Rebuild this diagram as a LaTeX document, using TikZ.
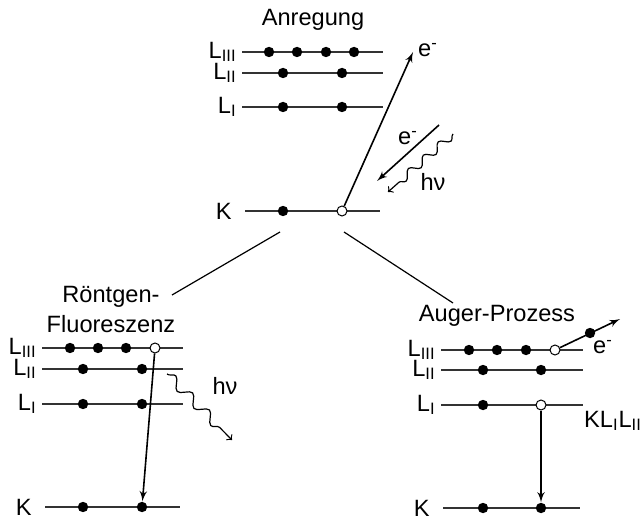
\documentclass[tikz,border=0pt]{standalone}
\usepackage{fontspec}
\setmainfont{Liberation Sans}
\usetikzlibrary{arrows,decorations.pathmorphing}
\tikzstyle{level}=[draw,line width=0.7pt,black!80]
\tikzstyle{electron}=[circle,fill=black,inner sep=0pt,minimum size=5.2pt]
\tikzstyle{hole}=[circle,draw,fill=white,inner sep=0pt,minimum size=5pt,line width=0.5pt]
\tikzstyle{shell}=[anchor=east,inner sep=0.5pt]
\tikzstyle{line} = [draw, -latex', line width=0.8pt]
\tikzstyle{photon} = [draw, ->, line width=0.6pt, decorate,
  decoration={snake,amplitude=2pt,segment length=10pt,post length=3pt}]

\begin{document}
\begin{tikzpicture}[x=0.5pt,y=-0.5pt,font=\fontsize{11.8}{15}\selectfont]
  \useasboundingbox (0,0) rectangle (640,517);
  % headers
  \node (anregung) at (313,20) {Anregung};
  \node[align=center] (roentgen) at (111,309) {Röntgen-\\Fluoreszenz};
  \node (auger) at (497,316) {Auger-Prozess};
  % Anregung
  \coordinate (aL3a) at (242,52);  \coordinate (aL3b) at (383,52);
  \coordinate (aL2a) at (242,73);  \coordinate (aL2b) at (383,73);
  \coordinate (aL1a) at (242,107); \coordinate (aL1b) at (383,107);
  \coordinate (aKa)  at (245,211); \coordinate (aKb)  at (380,211);
  \draw[level] (aL3a) -- (aL3b);
  \draw[level] (aL2a) -- (aL2b);
  \draw[level] (aL1a) -- (aL1b);
  \draw[level] (aKa) -- (aKb);
  \node[shell] (aL3) at ([xshift=-2]aL3a) {L\textsubscript{III}};
  \node[shell] (aL2) at ([xshift=-2]aL2a) {L\textsubscript{II}};
  \node[shell] (aL1) at ([xshift=-2]aL1a) {L\textsubscript{I}};
  \node[shell] (aK) at ([xshift=-6]aKa) {K};
  \node[electron] (aL3e1) at (269,52) {};
  \node[electron] (aL3e2) at (297,52) {};
  \node[electron] (aL3e3) at (326,52) {};
  \node[electron] (aL3e4) at (354,52) {};
  \node[electron] (aL2e1) at (283,73) {};
  \node[electron] (aL2e2) at (342,73) {};
  \node[electron] (aL1e1) at (283,107) {};
  \node[electron] (aL1e2) at (342,107) {};
  \node[electron] (aKe1) at (283,211) {};
  \node[hole] (aKh) at (342,211) {};
  \coordinate (aout) at (413,52);
  \path [line] (aKh) -- (aout);
  \node (aoutlabel) at (428,50) {e\textsuperscript{-}};
  \coordinate (ainA) at (439,125);
  \coordinate (ainB) at (377,181);
  \path [line] (ainA) -- (ainB);
  \node (ainlabel) at (408,138) {e\textsuperscript{-}};
  \coordinate (aphA) at (453,134);
  \coordinate (aphB) at (388,192);
  \path [photon] (aphA) -- (aphB);
  \node (aphlabel) at (433,182) {hν};
  % branches
  \coordinate (splitL) at (280,232); \coordinate (toL) at (172,295);
  \coordinate (splitR) at (344,232); \coordinate (toR) at (453,303);
  \draw[line width=0.6pt] (splitL) -- (toL);
  \draw[line width=0.6pt] (splitR) -- (toR);
  % Roentgen-Fluoreszenz
  \coordinate (rL3a) at (42,348);  \coordinate (rL3b) at (183,348);
  \coordinate (rL2a) at (42,369);  \coordinate (rL2b) at (183,369);
  \coordinate (rL1a) at (42,404);  \coordinate (rL1b) at (183,404);
  \coordinate (rKa)  at (45,507);  \coordinate (rKb)  at (180,507);
  \draw[level] (rL3a) -- (rL3b);
  \draw[level] (rL2a) -- (rL2b);
  \draw[level] (rL1a) -- (rL1b);
  \draw[level] (rKa) -- (rKb);
  \node[shell] (rL3) at ([xshift=-2]rL3a) {L\textsubscript{III}};
  \node[shell] (rL2) at ([xshift=-2]rL2a) {L\textsubscript{II}};
  \node[shell] (rL1) at ([xshift=-2]rL1a) {L\textsubscript{I}};
  \node[shell] (rK) at ([xshift=-6]rKa) {K};
  \node[electron] (rL3e1) at (70,348) {};
  \node[electron] (rL3e2) at (98,348) {};
  \node[electron] (rL3e3) at (126,348) {};
  \node[hole] (rL3h) at (155,348) {};
  \node[electron] (rL2e1) at (83,369) {};
  \node[electron] (rL2e2) at (142,369) {};
  \node[electron] (rL1e1) at (83,404) {};
  \node[electron] (rL1e2) at (142,404) {};
  \node[electron] (rKe1) at (83,507) {};
  \node[electron] (rKe2) at (142,507) {};
  \path [line] (rL3h) -- (rKe2);
  \coordinate (rphA) at (167,374);
  \coordinate (rphB) at (232,440);
  \path [photon,decoration={segment length=12pt,amplitude=2.5pt}] (rphA) -- (rphB);
  \node (rphlabel) at (225,386) {hν};
  % Auger-Prozess
  \coordinate (gL3a) at (441,350);  \coordinate (gL3b) at (583,350);
  \coordinate (gL2a) at (441,370);  \coordinate (gL2b) at (583,370);
  \coordinate (gL1a) at (441,405);  \coordinate (gL1b) at (583,405);
  \coordinate (gKa)  at (443,508);  \coordinate (gKb)  at (580,508);
  \draw[level] (gL3a) -- (gL3b);
  \draw[level] (gL2a) -- (gL2b);
  \draw[level] (gL1a) -- (gL1b);
  \draw[level] (gKa) -- (gKb);
  \node[shell] (gL3) at ([xshift=-2]gL3a) {L\textsubscript{III}};
  \node[shell] (gL2) at ([xshift=-2]gL2a) {L\textsubscript{II}};
  \node[shell] (gL1) at ([xshift=-2]gL1a) {L\textsubscript{I}};
  \node[shell] (gK) at ([xshift=-6]gKa) {K};
  \node[electron] (gL3e1) at (469,350) {};
  \node[electron] (gL3e2) at (497,350) {};
  \node[electron] (gL3e3) at (526,350) {};
  \node[hole] (gL3h) at (555,350) {};
  \node[electron] (gL2e1) at (483,370) {};
  \node[electron] (gL2e2) at (541,370) {};
  \node[electron] (gL1e1) at (483,405) {};
  \node[hole] (gL1h) at (541,405) {};
  \node[electron] (gKe1) at (483,508) {};
  \node[electron] (gKe2) at (541,508) {};
  \path [line] (gL1h) -- (gKe2);
  \coordinate (gout) at (620,319);
  \node[electron] (gfree) at (590,333) {};
  \path [line] (gL3h) -- (gout);
  \node (goutlabel) at (603,347) {e\textsuperscript{-}};
  \node (kll) at (613,421) {KL\textsubscript{I}L\textsubscript{II}};
\end{tikzpicture}
\end{document}
